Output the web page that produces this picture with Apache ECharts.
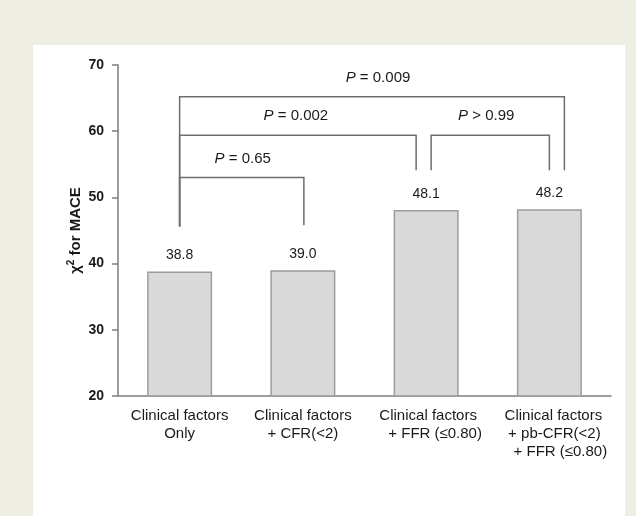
<!DOCTYPE html>
<html>
<head>
<meta charset="utf-8">
<title>Chi-square for MACE</title>
<script src="https://cdn.jsdelivr.net/npm/echarts@6/dist/echarts.min.js"></script>
<style>
  html, body { margin: 0; padding: 0; background: #eeeee3; }
  #chart { width: 636px; height: 516px; }
</style>
</head>
<body>
<div id="chart"></div>
<script>
// Model categories (x axis) and chi-square values
const categories = [
  'Clinical factors\nOnly',
  'Clinical factors\n+ CFR(<2)',
  'Clinical factors\n+ FFR (≤0.80)',
  'Clinical factors\n+ pb-CFR(<2)\n+ FFR (≤0.80)'
];
const chiSquare = [38.8, 39.0, 48.1, 48.2];

// Y axis ticks
const yTicks = [20, 30, 40, 50, 60, 70];

// Comparison brackets: from / to category, bracket level, foot levels, P text
const bracketFrom = [0, 0, 2, 0];
const bracketTo = [3, 2, 3, 1];
const bracketLevel = [65.2, 59.4, 59.4, 53.0];
const bracketLeftFoot = [45.6, 45.6, 54.1, 45.6];
const bracketRightFoot = [54.1, 54.1, 54.1, 45.8];
const pTexts = ['= 0.009', '= 0.002', '> 0.99', '= 0.65'];

// Horizontal nudges (px) for bracket legs and labels
const legShiftLeft = [0, 0, 5, 0];
const legShiftRight = [15, -10, 0, 1];
const pLabelShift = [6, -2, -4, 1];

// Per-line left padding (px) for multi-line axis labels
const labelLinePad = [
  [0, 0],
  [0, 0],
  [4, 18],
  [8, 10, 22]
];

const FONT = 'Arial, "Liberation Sans", Helvetica, sans-serif';
const AXIS_COLOR = '#7d7d7d';
const TEXT_COLOR = '#1a1a1a';

const bracketData = bracketFrom.map((f, i) => [f, bracketTo[i], bracketLevel[i], bracketLeftFoot[i], bracketRightFoot[i], i]);

const chart = echarts.init(document.getElementById('chart'), null, { renderer: 'canvas' });

const richX = {};
[0, 4, 8, 10, 18, 22].forEach(p => {
  richX['p' + p] = {
    fontFamily: FONT, fontSize: 15, color: TEXT_COLOR, lineHeight: 18,
    padding: [0, 0, 0, p]
  };
});

chart.setOption({
  backgroundColor: '#eeeee3',
  animation: false,
  graphic: [{
    type: 'rect',
    z: -10,
    silent: true,
    shape: { x: 33, y: 45, width: 592, height: 480 },
    style: { fill: '#ffffff' }
  }],
  grid: {
    left: 118, right: 25, top: 65, bottom: 120,
    containLabel: false,
    outerBoundsMode: 'none'
  },
  xAxis: {
    type: 'category',
    data: categories,
    axisLine: { lineStyle: { color: AXIS_COLOR, width: 1.5 } },
    axisTick: { alignWithLabel: true, length: 6, lineStyle: { color: AXIS_COLOR, width: 1.5 } },
    axisLabel: {
      interval: 0,
      margin: 11,
      formatter: (value, idx) => {
        const pads = labelLinePad[idx];
        return value.split('\n').map((line, k) => '{p' + pads[k] + '|' + line + '}').join('\n');
      },
      rich: richX
    },
    splitLine: { show: false }
  },
  yAxis: {
    type: 'value',
    min: yTicks[0],
    max: yTicks[yTicks.length - 1],
    interval: 10,
    axisLine: { show: true, lineStyle: { color: AXIS_COLOR, width: 1.5 } },
    axisTick: { show: true, length: 6, lineStyle: { color: AXIS_COLOR, width: 1.5 } },
    axisLabel: {
      margin: 14,
      fontFamily: FONT, fontSize: 14, fontWeight: 'bold', color: TEXT_COLOR
    },
    splitLine: { show: false },
    name: '{a|χ}{s|2}{a| for MACE}',
    nameLocation: 'middle',
    nameGap: 33,
    nameMoveOverlap: false,
    nameRotate: 90,
    nameTextStyle: {
      rich: {
        a: { fontFamily: FONT, fontSize: 15, fontWeight: 'bold', color: TEXT_COLOR, lineHeight: 18 },
        s: { fontFamily: FONT, fontSize: 10, fontWeight: 'bold', color: TEXT_COLOR, padding: [0, 0, 9, 0] }
      }
    }
  },
  series: [
    {
      type: 'bar',
      data: chiSquare,
      barWidth: 65,
      itemStyle: { color: '#d9d9d9', borderColor: '#9c9c9c', borderWidth: 1.5 },
      label: {
        show: true,
        position: 'top',
        distance: 9,
        fontFamily: FONT, fontSize: 14, color: TEXT_COLOR,
        formatter: p => p.value.toFixed(1)
      },
      z: 2
    },
    {
      type: 'custom',
      data: bracketData,
      encode: { x: 0, y: 2 },
      clip: false,
      z: 3,
      renderItem: (params, api) => {
        const i = api.value(5);
        const left = api.coord([api.value(0), api.value(2)]);
        const right = api.coord([api.value(1), api.value(2)]);
        const leftFoot = api.coord([api.value(0), api.value(3)]);
        const rightFoot = api.coord([api.value(1), api.value(4)]);
        const xl = left[0] + legShiftLeft[i];
        const xr = right[0] + legShiftRight[i];
        const yTop = left[1];
        return {
          type: 'group',
          children: [
            {
              type: 'polyline',
              shape: { points: [[xl, leftFoot[1]], [xl, yTop], [xr, yTop], [xr, rightFoot[1]]] },
              style: { stroke: '#6e6e6e', lineWidth: 1.5, fill: null }
            },
            {
              type: 'text',
              style: {
                x: (xl + xr) / 2 + pLabelShift[i],
                y: yTop - 19,
                text: '{i|P} {n|' + pTexts[i] + '}',
                align: 'center',
                verticalAlign: 'middle',
                fill: TEXT_COLOR,
                font: '15px ' + FONT,
                rich: {
                  i: { font: 'italic 15px ' + FONT, fill: TEXT_COLOR },
                  n: { font: '15px ' + FONT, fill: TEXT_COLOR }
                }
              }
            }
          ]
        };
      }
    }
  ]
});
</script>
</body>
</html>
